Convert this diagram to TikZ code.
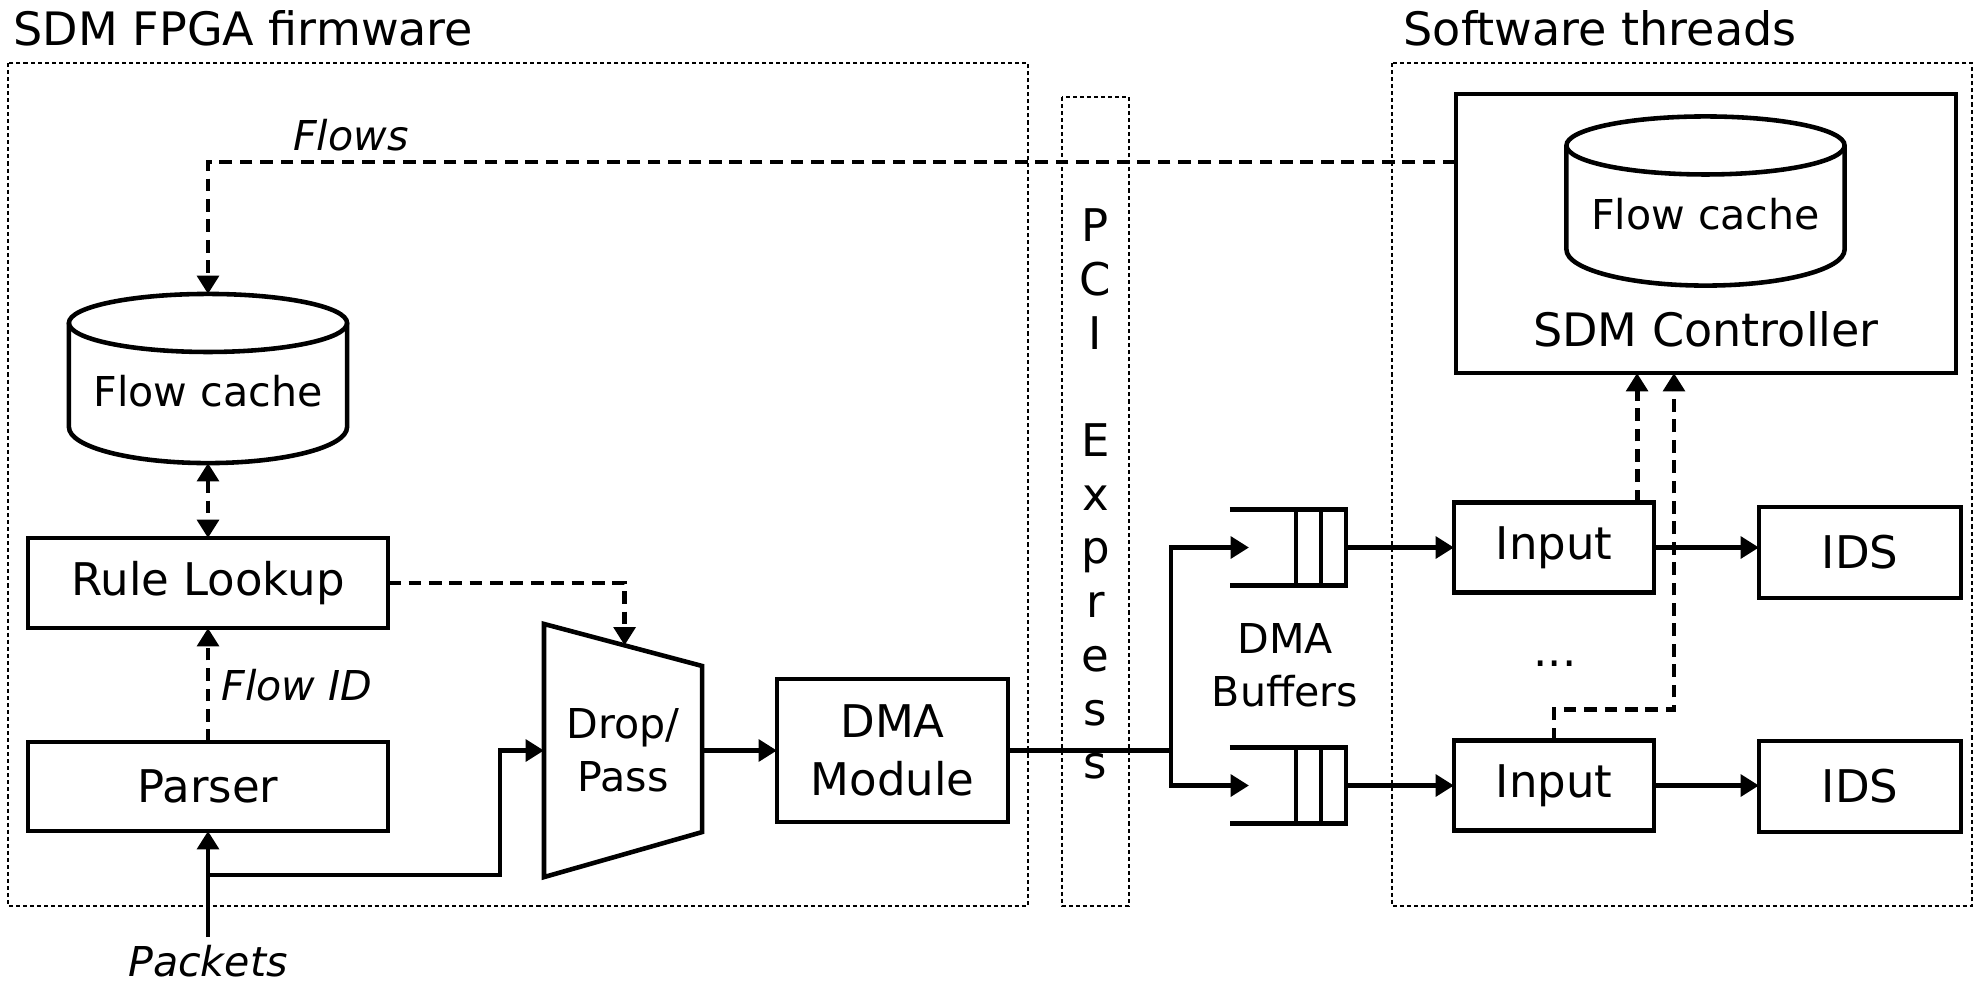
\documentclass[tikz,border=0pt]{standalone}
\usepackage{fontspec}
\setmainfont{DejaVu Sans}
\usetikzlibrary{arrows.meta,calc}

\tikzset{
	outline/.style={line width=1.3pt},
	box/.style={draw, outline, inner sep=0pt, outer sep=0pt, align=center, font=\fontsize{12.8}{16.5}\selectfont},
	holder/.style={inner sep=0pt, outer sep=0pt},
	drum/.style={holder, minimum width=2.78cm, minimum height=1.69cm, text height=0.56cm, text depth=0pt, font=\fontsize{11.7}{14}\selectfont},
	lbl/.style={font=\fontsize{11.7}{15.1}\selectfont},
	itlbl/.style={font=\fontsize{11.7}{14}\selectfont\itshape},
	boxtext/.style={font=\fontsize{12.8}{15.3}\selectfont},
	heading/.style={anchor=base west, inner sep=0pt, font=\fontsize{13.1}{15.7}\selectfont},
	region/.style={line width=0.57pt, dash pattern=on 1.15pt off 0.85pt},
	signal/.style={line width=1.4pt, dash pattern=on 3.6pt off 2.2pt},
}

% cylinder drawn round a named node
\newcommand{\drumshape}[1]{%
	\draw[outline] ($(#1.north west)+(0,29)$) -- ($(#1.south west)+(0,-36)$)
		arc[start angle=180, end angle=360, x radius=1.39cm, y radius=0.36cm]
		-- ($(#1.north east)+(0,29)$);
	\draw[outline] ($(#1.north)+(0,29)$) ellipse[x radius=1.39cm, y radius=0.29cm];
}
% queue drawn round a named node
\newcommand{\queueshape}[1]{%
	\draw[outline] (#1.north west) -- (#1.north east) -- (#1.south east) -- (#1.south west);
	\foreach \dx in {66,91}
		\draw[outline] ($(#1.north west)+(\dx,0)$) -- ($(#1.south west)+(\dx,0)$);
}

\begin{document}
\begin{tikzpicture}[x=0.01cm, y=-0.01cm, >={Triangle[length=5.2pt,width=6.1pt]}]
	\useasboundingbox (0,0) rectangle (1977,981);
	% dotted regions
	\draw[region] (8,63) rectangle (1028,906);
	\draw[region] (1062,97) rectangle (1129,906);
	\draw[region] (1392,63) rectangle (1972,906);
	\node[heading] (fpgatitle) at (13,45) {SDM FPGA firmware};
	\node[heading] (swtitle) at (1403,45) {Software threads};
	\node[boxtext, align=center, anchor=north, inner sep=0pt, font=\fontsize{12.8}{15.28}\selectfont] (pci) at (1095.5,208) {P\\C\\I\\[15.28pt]E\\x\\p\\r\\e\\s\\s};
	
	% firmware blocks
	\node[drum] (fcfpga) at (208,378.5) {Flow cache};
	\drumshape{fcfpga}
	\node[box, minimum width=3.6cm, minimum height=0.9cm] (rule) at (208,583) {Rule Lookup};
	\node[box, minimum width=3.6cm, minimum height=0.89cm] (parser) at (208,786.5) {Parser};
	\node[holder, lbl, align=center, minimum width=1.58cm, minimum height=2.53cm] (drop) at (623,750.5) {Drop/\\Pass};
	\draw[outline] (drop.north west) -- ($(drop.north east)+(0,42)$) -- ($(drop.south east)+(0,-45)$) -- (drop.south west) -- cycle;
	\node[box, minimum width=2.31cm, minimum height=1.43cm] (dma) at (892.5,750.5) {DMA\\Module};
	\node[itlbl, anchor=base, inner sep=2pt] (pkt) at (208,976) {Packets};
	\node[itlbl, anchor=base west, inner sep=0pt] (flowid) at (221,700) {Flow ID};
	\node[itlbl, anchor=base, inner sep=0pt] (flows) at (351,150) {Flows};
	
	% software blocks
	\node[box, minimum width=5cm, minimum height=2.79cm] (sdmctrl) at (1706,233.5) {};
	\node[boxtext, anchor=base, inner sep=0pt, font=\fontsize{13.1}{15.7}\selectfont] (ctrltxt) at (1706,346) {SDM Controller};
	\node[drum] (fcsw) at (1705.5,201) {Flow cache};
	\drumshape{fcsw}
	\foreach \n/\y/\z in {1/547.5/552.5, 2/785.5/786.5}{
		\node[holder, minimum width=1.16cm, minimum height=0.76cm] (buf\n) at (1288,\y) {};
		\queueshape{buf\n}
		\node[box, minimum width=2cm, minimum height=0.9cm] (in\n) at (1554,\y) {Input};
		\node[box, minimum width=2.02cm, minimum height=0.91cm] (ids\n) at (1860,\z) {IDS};
	}
	\node[lbl, align=center, inner sep=0pt] (buftxt) at (1285,665.5) {DMA\\Buffers};
	\node[boxtext, anchor=base, inner sep=0pt] (dots) at (1555,666) {...};
	
	% packet path
	\draw[->, outline] (pkt.north) -- (parser.south);
	\coordinate (split) at (208,875);
	\draw[->, outline] (split) -| ([xshift=-0.44cm]drop.west) |- (drop.west);
	\draw[->, outline] (drop.east) -- (dma.west);
	\coordinate (fork) at ($(dma.east)+(163,0)$);
	\foreach \n in {1,2}{
		\draw[->, outline] (dma.east) -- (fork) |- ($(buf\n.west)+(19,0)$);
		\draw[->, outline] (buf\n.east) -- (in\n.west);
		\draw[->, outline] (in\n.east) -- (in\n.east -| ids\n.west);
	}
	
	% control path
	\draw[signal, <->] (fcfpga.south) -- (rule.north);
	\draw[signal, ->] (parser.north) -- (rule.south);
	\path (drop.north west) -- ($(drop.north east)+(0,42)$) coordinate[pos=0.51] (droptop);
	\draw[signal, ->] (rule.east) -| (droptop);
	\draw[signal, ->] ([yshift=0.715cm]sdmctrl.west) -| (fcfpga.north);
	\draw[signal, ->] ([xshift=0.83cm]in1.north) coordinate (up1) -- (up1 |- sdmctrl.south);
	\draw[signal, ->] (in2.north) -- ++(0,-31) -| ([xshift=-0.32cm]sdmctrl.south);
\end{tikzpicture}
\end{document}
